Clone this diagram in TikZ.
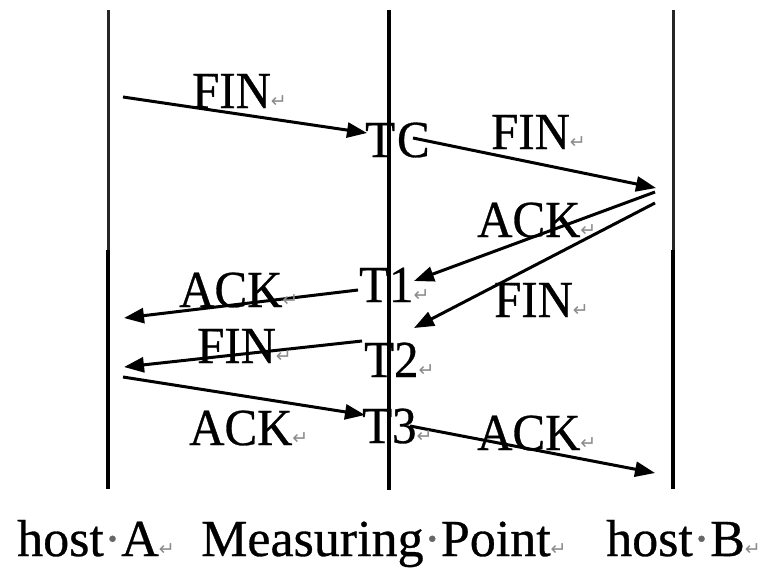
\documentclass[tikz,border=0pt]{standalone}
\usepackage{fontspec}
\setmainfont[FakeStretch=0.94,FakeBold=0.6]{Liberation Serif}
\newfontfamily\widefont[FakeBold=0.6]{Liberation Serif}
\newfontfamily\symfont{DejaVu Sans}
\usetikzlibrary{arrows.meta}
\newcommand{\pmark}{{\symfont\fontsize{19}{19}\selectfont\color{black!45}\raisebox{1pt}{↵}}}
\newcommand{\sdot}{{\color{black!60}·}}
\begin{document}
\begin{tikzpicture}[x=1pt,y=-1pt,
  lbl/.style={anchor=base west,inner sep=0pt,font=\fontsize{52}{60}\selectfont},
  btm/.style={anchor=base west,inner sep=0pt,font=\widefont\fontsize{52}{60}\selectfont},
  life/.style={line width=3.3pt,black},
  lifeup/.style={line width=3pt,black!85},
  msg/.style={line width=3pt,-{Triangle[length=20pt,width=15pt]}}]
\useasboundingbox (0,0) rectangle (765,568);
% lifelines
\coordinate (La) at (108,10); \coordinate (Lm) at (108,250); \coordinate (Lb) at (108,489);
\coordinate (Ma) at (389,10); \coordinate (Mb) at (389,490);
\coordinate (Ra) at (673,10); \coordinate (Rm) at (673,250); \coordinate (Rb) at (673,489);
\draw[lifeup] (La) -- (Lm); \draw[life] (Lm) -- (Lb);
\draw[life] (Ma) -- (Mb);
\draw[lifeup] (Ra) -- (Rm); \draw[life] (Rm) -- (Rb);
% arrow end points
\coordinate (a1s) at (123,97);  \coordinate (a1e) at (367,133);
\coordinate (a2s) at (413,138); \coordinate (a2e) at (656,188);
\coordinate (a3s) at (655,192); \coordinate (a3e) at (414,281);
\coordinate (a4s) at (655,203); \coordinate (a4e) at (414,328);
\coordinate (a5s) at (358,290); \coordinate (a5e) at (124,318);
\coordinate (a6s) at (362,341); \coordinate (a6e) at (124,367);
\coordinate (a7s) at (123,377); \coordinate (a7e) at (365,415);
\coordinate (a8s) at (410,426); \coordinate (a8e) at (655,473);
\draw[msg] (a1s) -- (a1e);
\draw[msg] (a2s) -- (a2e);
\draw[msg] (a3s) -- (a3e);
\draw[msg] (a4s) -- (a4e);
\draw[msg] (a5s) -- (a5e);
\draw[msg] (a6s) -- (a6e);
\draw[msg] (a7s) -- (a7e);
\draw[msg] (a8s) -- (a8e);
% message labels
\node[lbl] (l1) at (192,108) {FIN\pmark};
\node[lbl] (l2) at (491,149) {FIN\pmark};
\node[lbl] (l3) at (477,237) {ACK\pmark};
\node[lbl] (l4) at (494,317) {FIN\pmark};
\node[lbl] (l5) at (179,307) {ACK\pmark};
\node[lbl] (l6) at (197,363) {FIN\pmark};
\node[lbl] (l7) at (189,445) {ACK\pmark};
\node[lbl] (l8) at (477,450) {ACK\pmark};
% time stamps
\node[lbl] (t0) at (365,157) {T\kern2pt C};
\node[lbl] (t1) at (359,302) {T1\pmark};
\node[lbl] (t2) at (364,377) {T2\pmark};
\node[lbl] (t3) at (362,443) {T3\pmark};
% bottom labels
\node[btm] (hA) at (17,556) {host\sdot A\pmark};
\node[btm] (mp) at (201,556) {Measuring\sdot Point\pmark};
\node[btm] (hB) at (606,556) {host\sdot B\pmark};
\end{tikzpicture}
\end{document}
